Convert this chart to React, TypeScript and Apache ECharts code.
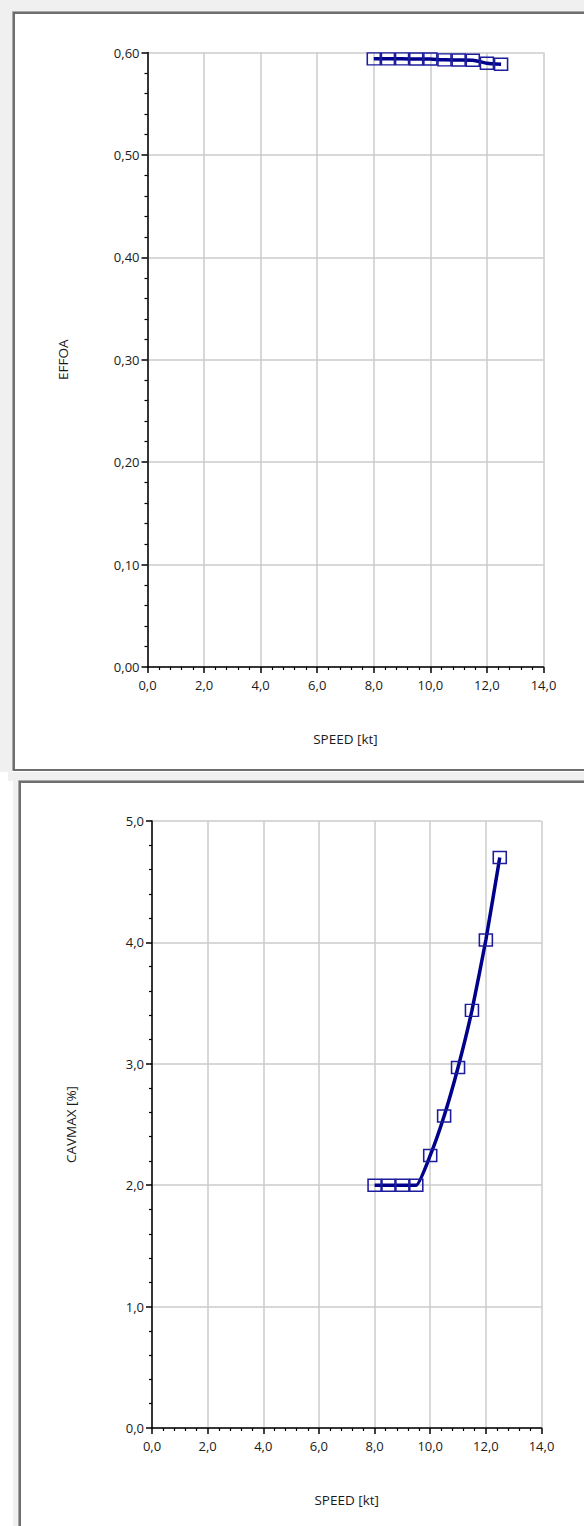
import React, { useEffect, useRef } from "react";
import * as echarts from "echarts";

const speeds = [8.0, 8.5, 9.0, 9.5, 10.0, 10.5, 11.0, 11.5, 12.0, 12.5];
const effoa = [0.5938, 0.5938, 0.5938, 0.5937, 0.5936, 0.5928, 0.5927, 0.5925, 0.5895, 0.5885];
const cavmax = [2.0, 2.0, 2.0, 2.0, 2.245, 2.57, 2.97, 3.44, 4.02, 4.7];

const xAxisTitle = "SPEED [kt]";
const topYTitle = "EFFOA";
const bottomYTitle = "CAVMAX [%]";

const FONT = "'Open Sans', 'Noto Sans', sans-serif";
const LINE = "#00008B";

function comma(v: number, d: number) {
  return v.toFixed(d).replace(".", ",");
}

export default function App() {
  const ref = useRef<HTMLDivElement>(null);
  useEffect(() => {
    document.body.style.margin = "0";
    const chart = echarts.init(ref.current!, null, { renderer: "svg" });

    const xAxisBase = (gridIndex: number) => ({
      type: "value",
      gridIndex,
      min: 0,
      max: 14,
      interval: 2,
      name: xAxisTitle,
      nameLocation: "middle",
      nameGap: 65,
      nameTextStyle: { fontFamily: FONT, fontSize: 13.5, color: "#1a1a1a" },
      axisLine: { show: true, onZero: false, lineStyle: { color: "#000", width: 1.5 } },
      axisTick: { show: true, inside: false, length: 6, lineStyle: { color: "#000", width: 1.5 } },
      minorTick: { show: true, splitNumber: 5, length: 3, lineStyle: { color: "#000", width: 1.2 } },
      splitLine: { show: true, lineStyle: { color: "#cbcbcb", width: 1.5 } },
      axisLabel: {
        margin: 11,
        fontFamily: FONT,
        fontSize: 13,
        color: "#1a1a1a",
        formatter: (v: number) => comma(v, 1),
      },
    });

    const yAxisBase = (gridIndex: number, max: number, interval: number, dec: number, name: string, gap: number) => ({
      type: "value",
      gridIndex,
      min: 0,
      max,
      interval,
      name,
      nameLocation: "middle",
      nameGap: gap,
      nameTextStyle: { fontFamily: FONT, fontSize: 13.5, color: "#1a1a1a" },
      axisLine: { show: true, onZero: false, lineStyle: { color: "#000", width: 1.5 } },
      axisTick: { show: true, inside: false, length: 6, lineStyle: { color: "#000", width: 1.5 } },
      minorTick: { show: true, splitNumber: 5, length: 3, lineStyle: { color: "#000", width: 1.2 } },
      splitLine: { show: true, lineStyle: { color: "#cbcbcb", width: 1.5 } },
      axisLabel: {
        margin: 8,
        fontFamily: FONT,
        fontSize: 13,
        color: "#1a1a1a",
        formatter: (v: number) => comma(v, dec),
      },
    });

    const seriesBase = {
      type: "line",
      symbol: "rect",
      symbolSize: [13, 12],
      lineStyle: { color: LINE, width: 3.5 },
      itemStyle: { color: "rgba(0,0,0,0)", borderColor: "#1c1c9c", borderWidth: 1.5 },
      emphasis: { disabled: true },
      z: 3,
    };

    chart.setOption({
      animation: false,
      backgroundColor: "#ffffff",
      graphic: [
        { type: "rect", z: -10, shape: { x: 0, y: 0, width: 584, height: 11 }, style: { fill: "#f0f0f0" } },
        { type: "rect", z: -10, shape: { x: 0, y: 0, width: 12, height: 772 }, style: { fill: "#f0f0f0" } },
        { type: "rect", z: -10, shape: { x: 8, y: 772, width: 584, height: 9 }, style: { fill: "#f0f0f0" } },
        { type: "rect", z: -10, shape: { x: 13, y: 772, width: 6, height: 760 }, style: { fill: "#f0f0f0" } },
        { type: "rect", z: -9, shape: { x: 12.5, y: 11.5, width: 600, height: 759 }, style: { fill: "#ffffff", stroke: "#a8a8a8", lineWidth: 1 } },
        { type: "rect", z: -9, shape: { x: 14, y: 13, width: 600, height: 757 }, style: { fill: "#ffffff", stroke: "#6e6e6e", lineWidth: 2 } },
        { type: "rect", z: -9, shape: { x: 18.5, y: 780.5, width: 600, height: 800 }, style: { fill: "#ffffff", stroke: "#a8a8a8", lineWidth: 1 } },
        { type: "rect", z: -9, shape: { x: 20, y: 782, width: 600, height: 800 }, style: { fill: "#ffffff", stroke: "#6e6e6e", lineWidth: 2 } },
      ],
      grid: [
        { left: 147.5, top: 52.5, width: 396, height: 614.5 },
        { left: 152, top: 821, width: 389.5, height: 607 },
      ],
      xAxis: [xAxisBase(0), xAxisBase(1)],
      yAxis: [
        yAxisBase(0, 0.6, 0.1, 2, topYTitle, 78),
        yAxisBase(1, 5, 1, 1, bottomYTitle, 74),
      ],
      series: [
        {
          ...seriesBase,
          xAxisIndex: 0,
          yAxisIndex: 0,
          smooth: 0.2,
          data: speeds.map((s, i) => [s, effoa[i]]),
        },
        {
          ...seriesBase,
          xAxisIndex: 1,
          yAxisIndex: 1,
          smooth: 0.15,
          data: speeds.map((s, i) => [s, cavmax[i]]),
        },
      ],
    });
    return () => chart.dispose();
  }, []);
  return (
    <div
      ref={ref}
      style={{ position: "absolute", left: 0, top: 0, width: 584, height: 1526 }}
    />
  );
}
